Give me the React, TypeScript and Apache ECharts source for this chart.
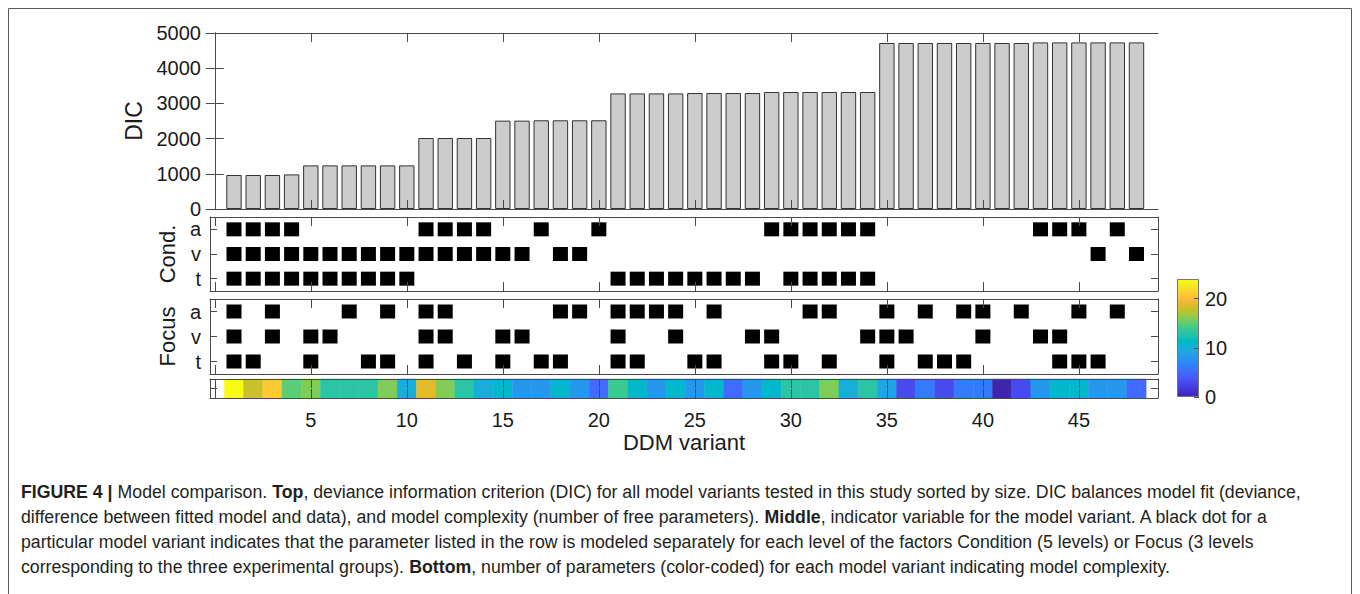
import React, { useEffect, useRef } from "react";
import * as echarts from "echarts";

// ---------- data ----------
const VARIANT = [1,2,3,4,5,6,7,8,9,10,11,12,13,14,15,16,17,18,19,20,21,22,23,24,25,26,27,28,29,30,31,32,33,34,35,36,37,38,39,40,41,42,43,44,45,46,47,48];
const DIC = [966,966,966,983,1239,1239,1239,1239,1239,1239,2017,2017,2017,2017,2510,2510,2520,2520,2520,2520,3284,3284,3284,3284,3295,3295,3295,3295,3324,3324,3324,3324,3324,3324,4716,4716,4716,4716,4716,4716,4716,4716,4733,4733,4733,4733,4733,4733];
const COND_A = [1,2,3,4,11,12,13,14,17,20,29,30,31,32,33,34,43,44,45,47];
const COND_V = [1,2,3,4,5,6,7,8,9,10,11,12,13,14,15,16,18,19,46,48];
const COND_T = [1,2,3,4,5,6,7,8,9,10,21,22,23,24,25,26,27,28,30,31,32,33,34];
const FOCUS_A = [1,3,7,9,11,12,18,19,21,22,23,24,26,31,32,35,37,39,40,42,45,47];
const FOCUS_V = [1,3,5,6,11,12,15,16,21,24,28,29,34,35,36,40,43,44];
const FOCUS_T = [1,2,5,8,9,11,13,15,17,18,21,22,25,26,29,30,32,35,37,38,39,44,45,46];
const N_PARAMS = [24,18,21,15,16,13,13,13,16,10,19,16,13,10,11,8,8,11,8,5,14,11,8,11,8,11,5,8,11,13,13,16,10,13,9,3,6,3,6,6,0,3,8,11,11,8,8,5];
const ROWS = ["t", "v", "a"];
const X_TICKS = [0,5,10,15,20,25,30,35,40,45];
const X_LABELS = [5,10,15,20,25,30,35,40,45];
const CBAR_TICKS = [0,10,20];
const CBAR_MAX = 24;

const CAPTION = [
  "{b|FIGURE 4 |} Model comparison. {b|Top}, deviance information criterion (DIC) for all model variants tested in this study sorted by size. DIC balances model fit (deviance,",
  "difference between fitted model and data), and model complexity (number of free parameters). {b|Middle}, indicator variable for the model variant. A black dot for a",
  "particular model variant indicates that the parameter listed in the row is modeled separately for each level of the factors Condition (5 levels) or Focus (3 levels",
  "corresponding to the three experimental groups). {b|Bottom}, number of parameters (color-coded) for each model variant indicating model complexity.",
];

const PARULA_RGB = [
[0.2422,0.1504,0.6603],[0.2504,0.1650,0.7076],[0.2578,0.1818,0.7511],[0.2647,0.1978,0.7952],
[0.2706,0.2147,0.8364],[0.2751,0.2342,0.8710],[0.2783,0.2559,0.8991],[0.2803,0.2782,0.9221],
[0.2813,0.3006,0.9414],[0.2810,0.3228,0.9579],[0.2795,0.3447,0.9717],[0.2760,0.3667,0.9829],
[0.2699,0.3892,0.9906],[0.2602,0.4123,0.9952],[0.2440,0.4358,0.9988],[0.2206,0.4603,0.9973],
[0.1963,0.4847,0.9892],[0.1834,0.5074,0.9798],[0.1786,0.5289,0.9682],[0.1764,0.5499,0.9520],
[0.1687,0.5703,0.9359],[0.1540,0.5902,0.9218],[0.1460,0.6091,0.9079],[0.1380,0.6276,0.8973],
[0.1248,0.6459,0.8883],[0.1113,0.6635,0.8763],[0.0952,0.6798,0.8598],[0.0689,0.6948,0.8394],
[0.0297,0.7082,0.8163],[0.0036,0.7203,0.7917],[0.0067,0.7312,0.7660],[0.0433,0.7411,0.7394],
[0.0964,0.7500,0.7120],[0.1408,0.7584,0.6842],[0.1717,0.7670,0.6554],[0.1938,0.7758,0.6251],
[0.2161,0.7843,0.5923],[0.2470,0.7918,0.5567],[0.2906,0.7973,0.5188],[0.3406,0.8008,0.4789],
[0.3909,0.8029,0.4354],[0.4456,0.8024,0.3909],[0.5044,0.7993,0.3480],[0.5616,0.7942,0.3045],
[0.6174,0.7876,0.2612],[0.6720,0.7793,0.2227],[0.7242,0.7698,0.1910],[0.7738,0.7598,0.1646],
[0.8203,0.7498,0.1535],[0.8634,0.7406,0.1596],[0.9035,0.7330,0.1774],[0.9393,0.7288,0.2100],
[0.9728,0.7298,0.2394],[0.9956,0.7434,0.2371],[0.9970,0.7659,0.2199],[0.9952,0.7893,0.2028],
[0.9892,0.8136,0.1885],[0.9786,0.8386,0.1766],[0.9676,0.8639,0.1643],[0.9610,0.8890,0.1537],
[0.9597,0.9135,0.1423],[0.9628,0.9373,0.1265],[0.9691,0.9606,0.1060],[0.9769,0.9839,0.0805],
];
const PARULA = PARULA_RGB.map(
  ([r, g, b]) => `rgb(${Math.round(r * 255)},${Math.round(g * 255)},${Math.round(b * 255)})`
);

// ---------- style ----------
const FONT = "'Liberation Sans', Arial, Helvetica, sans-serif";
const AXIS = "#4a4a4a";
const TEXT = "#1a1a1a";
const XMIN = -0.25;
const XMAX = 49.12;
const PLOT_LEFT = 210;
const PLOT_W = 948;

function xAxisCfg(gridIndex: number, position: string, withLabels: boolean, name?: string) {
  return {
    type: "value",
    gridIndex,
    position,
    min: XMIN,
    max: XMAX,
    z: 10,
    name: name || "",
    nameLocation: "middle",
    nameGap: 33,
    nameTextStyle: { fontSize: 22, fontFamily: FONT, color: TEXT },
    axisLine: { show: true, onZero: false, lineStyle: { color: AXIS, width: 1 } },
    axisTick: { show: true, inside: true, length: 9, customValues: X_TICKS, lineStyle: { color: AXIS, width: 1 } },
    axisLabel: withLabels
      ? { show: true, customValues: X_LABELS, fontSize: 20, fontFamily: FONT, color: TEXT, margin: 12 }
      : { show: false },
    splitLine: { show: false },
  };
}

function catYAxis(gridIndex: number, position: string, data: string[], withLabels: boolean, name?: string) {
  return {
    type: "category",
    gridIndex,
    position,
    data,
    z: 10,
    name: name || "",
    nameLocation: "middle",
    nameGap: 15,
    nameTextStyle: { fontSize: 22, fontFamily: FONT, color: TEXT },
    axisLine: { show: true, onZero: false, lineStyle: { color: AXIS, width: 1 } },
    axisTick: { show: true, inside: true, alignWithLabel: true, interval: 0, length: 7, lineStyle: { color: AXIS, width: 1 } },
    axisLabel: withLabels
      ? { show: true, interval: 0, fontSize: 20, fontFamily: FONT, color: TEXT, margin: 9 }
      : { show: false },
    splitLine: { show: false },
  };
}

function squares(xAxisIndex: number, yAxisIndex: number, xs: number[], row: string) {
  return {
    type: "scatter",
    xAxisIndex,
    yAxisIndex,
    symbol: "rect",
    symbolSize: [15, 14],
    itemStyle: { color: "#000000", opacity: 1 },
    silent: true,
    data: xs.map((x) => [x, row]),
  };
}

function buildOption() {
  const grids = [
    { left: PLOT_LEFT, top: 33, width: PLOT_W, height: 176 },
    { left: PLOT_LEFT, top: 217, width: PLOT_W, height: 74 },
    { left: PLOT_LEFT, top: 299, width: PLOT_W, height: 75 },
    { left: PLOT_LEFT, top: 379, width: PLOT_W, height: 19 },
    { left: 1177, top: 279, width: 22, height: 118 },
  ];

  const xAxis = [
    xAxisCfg(0, "bottom", false),
    xAxisCfg(0, "top", false),
    xAxisCfg(1, "bottom", false),
    xAxisCfg(1, "top", false),
    xAxisCfg(2, "bottom", false),
    xAxisCfg(2, "top", false),
    xAxisCfg(3, "bottom", true, "DDM variant"),
    xAxisCfg(3, "top", false),
    {
      type: "category",
      gridIndex: 4,
      data: [""],
      axisLine: { show: false },
      axisTick: { show: false },
      axisLabel: { show: false },
    },
  ];

  const yAxis = [
    {
      type: "value",
      gridIndex: 0,
      position: "left",
      min: 0,
      max: 5000,
      interval: 1000,
      z: 10,
      name: "DIC",
      nameLocation: "middle",
      nameGap: 40,
      nameTextStyle: { fontSize: 23, fontFamily: FONT, color: TEXT },
      axisLine: { show: true, lineStyle: { color: AXIS, width: 1 } },
      axisTick: { show: true, inside: true, length: 9, lineStyle: { color: AXIS, width: 1 } },
      axisLabel: {
        show: true,
        fontSize: 20,
        fontFamily: FONT,
        color: TEXT,
        margin: 9,
        formatter: (v: number) => String(v),
      },
      splitLine: { show: false },
    },
    {
      type: "value",
      gridIndex: 0,
      position: "right",
      min: 0,
      max: 5000,
      interval: 1000,
      z: 10,
      axisLine: { show: true, lineStyle: { color: AXIS, width: 1 } },
      axisTick: { show: true, inside: true, length: 9, lineStyle: { color: AXIS, width: 1 } },
      axisLabel: { show: false },
      splitLine: { show: false },
    },
    catYAxis(1, "left", ROWS, true, "Cond."),
    catYAxis(1, "right", ROWS, false),
    catYAxis(2, "left", ROWS, true, "Focus"),
    catYAxis(2, "right", ROWS, false),
    catYAxis(3, "left", [""], false),
    catYAxis(3, "right", [""], false),
    {
      type: "value",
      gridIndex: 4,
      position: "right",
      min: 0,
      max: CBAR_MAX,
      z: 10,
      axisLine: { show: false },
      axisTick: { show: true, inside: true, length: 5, customValues: CBAR_TICKS, lineStyle: { color: AXIS, width: 1 } },
      axisLabel: { show: true, customValues: CBAR_TICKS, fontSize: 20, fontFamily: FONT, color: TEXT, margin: 6 },
      splitLine: { show: false },
    },
  ];

  const series: any[] = [
    {
      type: "bar",
      xAxisIndex: 0,
      yAxisIndex: 0,
      barWidth: 15.4,
      itemStyle: { color: "#cccccc", borderColor: "#333333", borderWidth: 1 },
      silent: true,
      data: VARIANT.map((x, i) => [x, DIC[i]]),
    },
    squares(2, 2, COND_A, "a"),
    squares(2, 2, COND_V, "v"),
    squares(2, 2, COND_T, "t"),
    squares(4, 4, FOCUS_A, "a"),
    squares(4, 4, FOCUS_V, "v"),
    squares(4, 4, FOCUS_T, "t"),
    {
      type: "custom",
      xAxisIndex: 6,
      yAxisIndex: 6,
      silent: true,
      encode: { x: 0, y: 1 },
      data: VARIANT.map((x, i) => [x, 0, N_PARAMS[i]]),
      renderItem: (params: any, api: any) => {
        const x = api.value(0);
        const l = api.coord([x - 0.5, 0]);
        const r = api.coord([x + 0.5, 0]);
        const h = api.size([0, 1])[1];
        const c = api.visual("color");
        return {
          type: "rect",
          shape: { x: l[0], y: l[1] - h / 2, width: r[0] - l[0], height: h },
          style: { fill: c, stroke: c, lineWidth: 0.5 },
        };
      },
    },
    {
      type: "bar",
      xAxisIndex: 8,
      yAxisIndex: 8,
      barWidth: "100%",
      silent: true,
      itemStyle: {
        borderColor: "#777",
        borderWidth: 1,
        color: new echarts.graphic.LinearGradient(
          0, 1, 0, 0,
          PARULA.map((c, i) => ({ offset: i / (PARULA.length - 1), color: c }))
        ),
      },
      data: [CBAR_MAX],
    },
  ];

  const graphic: any[] = [
    {
      type: "rect",
      silent: true,
      shape: { x: 8.5, y: 8.5, width: 1343, height: 620 },
      style: { fill: "none", stroke: "#5a5a5a", lineWidth: 1 },
    },
    {
      type: "group",
      x: 21,
      y: 0,
      scaleX: 0.933,
      children: CAPTION.map((line, i) => ({
        type: "text",
        x: 0,
        y: 491 + i * 25,
        silent: true,
        style: {
          text: line,
          fontSize: 19,
          fontFamily: FONT,
          fill: "#231f20",
          verticalAlign: "middle",
          rich: {
            b: { fontWeight: "bold", fontSize: 19, fontFamily: FONT, fill: "#231f20" },
          },
        },
      })),
    },
  ];

  return {
    animation: false,
    backgroundColor: "#ffffff",
    grid: grids,
    xAxis,
    yAxis,
    visualMap: {
      type: "continuous",
      show: false,
      min: 0,
      max: CBAR_MAX,
      dimension: 2,
      seriesIndex: 7,
      inRange: { color: PARULA },
    },
    series,
    graphic,
  };
}

export default function App() {
  const ref = useRef<HTMLDivElement>(null);
  useEffect(() => {
    if (!ref.current) return;
    const chart = echarts.init(ref.current, undefined, { renderer: "svg" });
    chart.setOption(buildOption() as any);
    return () => chart.dispose();
  }, []);
  return (
    <div
      ref={ref}
      style={{ position: "fixed", left: 0, top: 0, width: 1360, height: 594, background: "#fff" }}
    />
  );
}
